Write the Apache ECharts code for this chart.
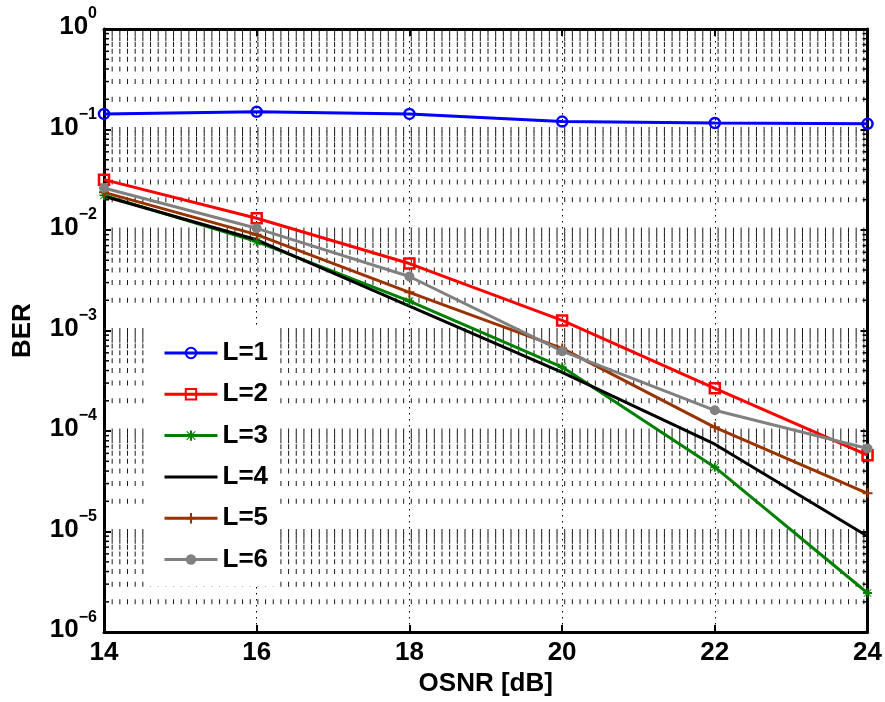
<!DOCTYPE html>
<html>
<head>
<meta charset="utf-8">
<script src="https://cdn.jsdelivr.net/npm/echarts@6/dist/echarts.min.js"></script>
<style>
html,body{margin:0;padding:0;background:#fff;}
#chart{width:885px;height:702px;}
</style>
</head>
<body>
<div id="chart"></div>
<script>
// ---- data ----
const osnr = [14, 16, 18, 20, 22, 24];
const seriesNames = ['L=1', 'L=2', 'L=3', 'L=4', 'L=5', 'L=6'];
const berL1 = [0.143, 0.150, 0.143, 0.120, 0.116, 0.114];
const berL2 = [0.0317, 0.0131, 0.00464, 0.00126, 2.66e-4, 5.75e-5];
const berL3 = [0.0221, 0.00767, 0.00196, 4.33e-4, 4.37e-5, 2.45e-6];
const berL4 = [0.0217, 0.0080, 0.00175, 3.84e-4, 7.4e-5, 9.0e-6];
const berL5 = [0.0237, 0.0090, 0.0024, 6.64e-4, 1.09e-4, 2.4e-5];
const berL6 = [0.0262, 0.0104, 0.00345, 6.24e-4, 1.61e-4, 6.7e-5];
const xTicks = { min: 14, max: 24, interval: 2 };
const yRange = { min: 1e-6, max: 1 };
const xLabel = 'OSNR [dB]';
const yLabel = 'BER';

const FONT = '"Liberation Sans", Arial, Helvetica, sans-serif';

// log grid values (decoration): m * 10^k, with flag for minor
const gridRows = [];
for (let k = -6; k <= -1; k++) {
  for (let m = 1; m <= 9; m++) {
    if (k === -6 && m === 1) continue;
    gridRows.push([xTicks.min, m * Math.pow(10, k), m === 1 ? 0 : 1]);
  }
}

const pairs = arr => osnr.map((x, i) => [x, arr[i]]);

const asterisk = 'path://M4,0h2v10H4zM0,4h10v2H0zM1.2,0.5L5,4.3L8.8,0.5L9.5,1.2L5.7,5L9.5,8.8L8.8,9.5L5,5.7L1.2,9.5L0.5,8.8L4.3,5L0.5,1.2z';
const plus = 'path://M4,0h2v10H4zM0,4h10v2H0z';

const chart = echarts.init(document.getElementById('chart'), null, { renderer: 'canvas' });

const axisLineStyle = { show: true, lineStyle: { color: '#000', width: 3 } };
const tickStyle = { show: true, inside: true, length: 7, lineStyle: { color: '#000', width: 2 } };

function renderGridRow(params, api) {
  const v = api.value(1);
  const minor = api.value(2) === 1;
  const p1 = api.coord([xTicks.min, v]);
  const p2 = api.coord([xTicks.max, v]);
  const children = [{
    type: 'line', silent: true,
    shape: { x1: p1[0], y1: p1[1], x2: p2[0], y2: p2[1] },
    style: { stroke: '#1a1a1a', lineWidth: 5, lineDash: [1, 6.67], lineDashOffset: 0 }
  }];
  if (minor) {
    children.push({
      type: 'line', silent: true,
      shape: { x1: p1[0], y1: p1[1], x2: p1[0] + 5, y2: p1[1] },
      style: { stroke: '#000', lineWidth: 1.5 }
    });
    children.push({
      type: 'line', silent: true,
      shape: { x1: p2[0] - 5, y1: p2[1], x2: p2[0], y2: p2[1] },
      style: { stroke: '#000', lineWidth: 1.5 }
    });
  }
  return { type: 'group', children: children };
}

const option = {
  backgroundColor: '#fff',
  animation: false,
  grid: { left: 104, right: 14, top: 29, bottom: 69 },
  xAxis: [
    {
      type: 'value', position: 'bottom', min: xTicks.min, max: xTicks.max, interval: xTicks.interval,
      axisLine: axisLineStyle, axisTick: tickStyle,
      axisLabel: { fontSize: 26, fontWeight: 'bold', color: '#000', fontFamily: FONT, margin: 8 },
      splitLine: { show: true, lineStyle: { color: '#000', width: 1, type: [1.5, 4.5] } },
      name: xLabel, nameLocation: 'middle', nameGap: 37,
      nameTextStyle: { fontSize: 26, fontWeight: 'bold', color: '#000', fontFamily: FONT }
    },
    {
      type: 'value', position: 'top', min: xTicks.min, max: xTicks.max, interval: xTicks.interval,
      axisLine: axisLineStyle, axisTick: tickStyle,
      axisLabel: { show: false }, splitLine: { show: false }
    }
  ],
  yAxis: [
    {
      type: 'log', logBase: 10, position: 'left', min: yRange.min, max: yRange.max, splitNumber: 6,
      axisLine: axisLineStyle, axisTick: tickStyle,
      splitLine: { show: false },
      axisLabel: {
        margin: 7, color: '#000', fontFamily: FONT,
        formatter: function (v) {
          const e = Math.round(Math.log10(v));
          const es = e === 0 ? '0' : '\u2212' + (-e);
          return '{b|10}{e|' + es + '}';
        },
        rich: {
          b: { fontSize: 26, fontWeight: 'bold', fontFamily: FONT, color: '#000', lineHeight: 26, verticalAlign: 'bottom', padding: [0, 0, 2, 0] },
          e: { fontSize: 16, fontWeight: 'bold', fontFamily: FONT, color: '#000', lineHeight: 16, verticalAlign: 'bottom', padding: [0, 0, 20, 0] }
        }
      },
      name: yLabel, nameLocation: 'middle', nameGap: 68, nameRotate: 90,
      nameTextStyle: { fontSize: 26, fontWeight: 'bold', color: '#000', fontFamily: FONT }
    },
    {
      type: 'log', logBase: 10, position: 'right', min: yRange.min, max: yRange.max, splitNumber: 6,
      axisLine: axisLineStyle, axisTick: tickStyle,
      axisLabel: { show: false }, splitLine: { show: false }
    }
  ],
  legend: {
    orient: 'vertical', left: 150, top: 326,
    padding: [14, 12, 14, 13],
    backgroundColor: '#fff',
    itemWidth: 53, itemHeight: 13, itemGap: 15.3,
    lineStyle: { width: 3 },
    textStyle: { fontSize: 26, fontWeight: 'bold', color: '#000', fontFamily: FONT, lineHeight: 26 },
    data: [
      seriesNames[0], seriesNames[1], seriesNames[2],
      { name: seriesNames[3], itemStyle: { color: 'rgba(0,0,0,0)', borderWidth: 0, opacity: 0 } },
      seriesNames[4], seriesNames[5]
    ]
  },
  series: [
    {
      name: '_grid', type: 'custom', data: gridRows, silent: true, z: 1,
      encode: { x: 0, y: 1 },
      renderItem: renderGridRow
    },
    {
      name: seriesNames[0], type: 'line', data: pairs(berL1), clip: false, z: 5,
      symbol: 'circle', symbolSize: 10,
      lineStyle: { color: '#0000ff', width: 3 },
      itemStyle: { color: 'rgba(255,255,255,0)', borderColor: '#0000ff', borderWidth: 2.5 }
    },
    {
      name: seriesNames[1], type: 'line', data: pairs(berL2), clip: false, z: 5,
      symbol: 'rect', symbolSize: 10,
      lineStyle: { color: '#ff0000', width: 3 },
      itemStyle: { color: 'rgba(255,255,255,0)', borderColor: '#ff0000', borderWidth: 2.5 }
    },
    {
      name: seriesNames[2], type: 'line', data: pairs(berL3), clip: false, z: 5,
      symbol: asterisk, symbolSize: 9,
      lineStyle: { color: '#008000', width: 3 },
      itemStyle: { color: '#008000' }
    },
    {
      name: seriesNames[3], type: 'line', data: pairs(berL4), clip: false, z: 5,
      symbol: 'none',
      lineStyle: { color: '#000000', width: 3 },
      itemStyle: { color: '#000000' }
    },
    {
      name: seriesNames[4], type: 'line', data: pairs(berL5), clip: false, z: 5,
      symbol: plus, symbolSize: 10,
      lineStyle: { color: '#993300', width: 3 },
      itemStyle: { color: '#993300' }
    },
    {
      name: seriesNames[5], type: 'line', data: pairs(berL6), clip: false, z: 5,
      symbol: 'circle', symbolSize: 10,
      lineStyle: { color: '#808080', width: 3 },
      itemStyle: { color: '#808080' }
    }
  ]
};
chart.setOption(option);
</script>
</body>
</html>
